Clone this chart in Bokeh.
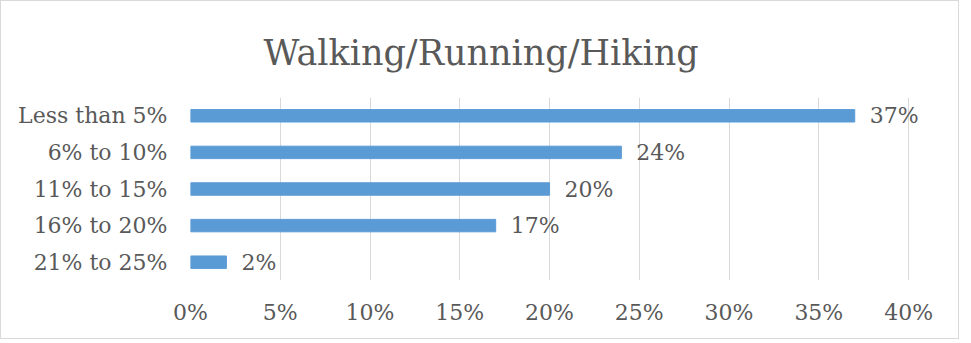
from bokeh.plotting import figure
from bokeh.models import ColumnDataSource, FactorRange, Range1d, FixedTicker, NumeralTickFormatter, Title
from bokeh.core.properties import value
from bokeh.embed import file_html
from bokeh.resources import INLINE

title_text = "Walking/Running/Hiking"
categories = ["Less than 5%", "6% to 10%", "11% to 15%", "16% to 20%", "21% to 25%"]
values = [0.37, 0.24, 0.20, 0.17, 0.02]
x_ticks = [0.0, 0.05, 0.10, 0.15, 0.20, 0.25, 0.30, 0.35, 0.40]

FONT = "DejaVu Serif"
TXT = "#595959"
GRID = "#d9d9d9"
BAR = "#5b9bd5"

labels = [f"{round(v * 100)}%" for v in values]
src = ColumnDataSource(data=dict(cat=categories, val=values, label=labels))

p = figure(
    width=959, height=339,
    y_range=FactorRange(factors=list(reversed(categories))),
    x_range=Range1d(0, 0.42),
    output_backend="svg", toolbar_location=None,
    min_border_left=189, min_border_right=16, min_border_top=96, min_border_bottom=60,
    styles={"border": "1px solid #d9d9d9"},
)
p.outline_line_color = None
p.background_fill_color = "white"
p.border_fill_color = "white"

p.hbar(y="cat", right="val", left=0, height=0.34, color=BAR, source=src)
p.text(x="val", y="cat", text="label", x_offset=15, text_baseline="middle", text_align="left",
       text_font=value(FONT), text_font_size="22px", text_color=TXT, source=src)

p.xaxis.ticker = FixedTicker(ticks=x_ticks)
p.xaxis.formatter = NumeralTickFormatter(format="0%")
for ax in (p.xaxis[0], p.yaxis[0]):
    ax.axis_line_color = None
    ax.major_tick_line_color = None
    ax.minor_tick_line_color = None
    ax.major_label_text_font = FONT
    ax.major_label_text_font_size = "22px"
    ax.major_label_text_color = TXT
p.xaxis.major_label_standoff = 13
p.yaxis.major_label_standoff = 17

p.xgrid.grid_line_color = GRID
p.xgrid.grid_line_width = 1
p.ygrid.grid_line_color = None

p.title = Title(text=title_text, align="left", offset=73, standoff=50,
                text_font=FONT, text_font_size="35px", text_color=TXT, text_font_style="normal")

open("out.html", "w").write(file_html(p, INLINE))
